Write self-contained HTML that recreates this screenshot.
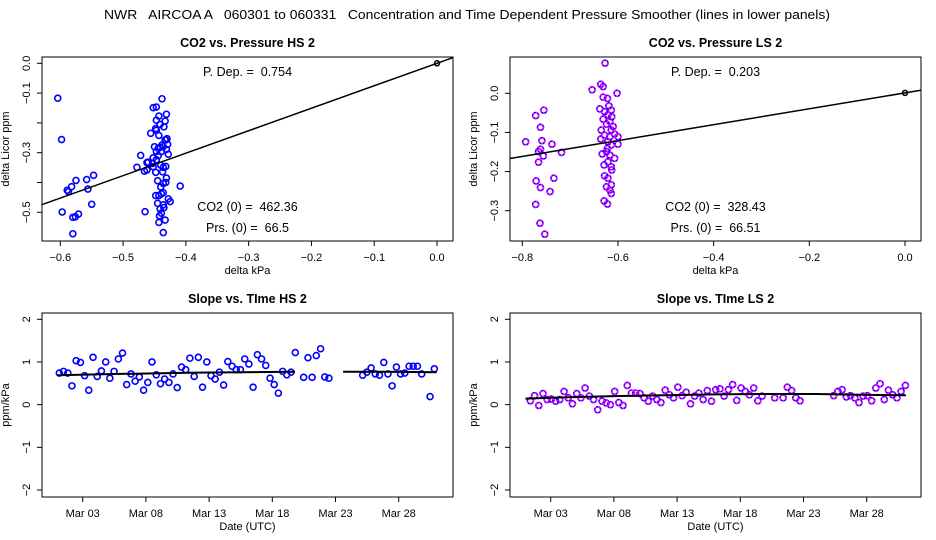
<!DOCTYPE html>
<html><head><meta charset="utf-8"><style>
body{margin:0;background:#fff}
svg{display:block;font-family:"Liberation Sans",sans-serif}
svg text{white-space:pre}
</style></head><body>
<svg id="c" width="936" height="540" viewBox="0 0 936 540" xml:space="preserve">
<rect width="936" height="540" fill="#fff"/>
<text x="104" y="19" font-size="12.5" textLength="726" lengthAdjust="spacingAndGlyphs">NWR   AIRCOA A   060301 to 060331   Concentration and Time Dependent Pressure Smoother (lines in lower panels)</text>
</svg>
<script>
// ---- HS pressure scatter data ----
const hsP = [-0.604,-0.598,-0.597,-0.580,-0.580,-0.576,-0.571,-0.589,-0.587,-0.582,-0.575,-0.558,-0.556,-0.547,-0.550,-0.478,-0.472,-0.466,-0.465,-0.409,
-0.438,-0.452,-0.447,-0.431,-0.443,-0.433,-0.447,-0.441,-0.448,-0.456,-0.443,-0.430,-0.433,-0.429,-0.450,-0.438,-0.444,-0.441,-0.436,-0.431,-0.447,-0.439,-0.428,-0.452,-0.444,-0.460,-0.447,-0.452,-0.440,-0.436,-0.432,-0.448,-0.437,-0.431,-0.445,-0.436,-0.440,-0.432,-0.439,-0.448,-0.443,-0.436,-0.428,-0.425,-0.445,-0.436,-0.441,-0.439,-0.442,-0.435,-0.433,-0.443,-0.436,-0.453,-0.462,-0.447,-0.435,-0.432,-0.462];
const hsC = [-0.117,-0.256,-0.499,-0.572,-0.517,-0.515,-0.506,-0.426,-0.431,-0.414,-0.393,-0.390,-0.422,-0.376,-0.473,-0.349,-0.309,-0.362,-0.498,-0.412,
-0.119,-0.149,-0.147,-0.171,-0.177,-0.194,-0.191,-0.205,-0.219,-0.235,-0.242,-0.253,-0.257,-0.272,-0.280,-0.274,-0.285,-0.282,-0.280,-0.289,-0.296,-0.296,-0.305,-0.317,-0.310,-0.332,-0.324,-0.347,-0.342,-0.349,-0.346,-0.366,-0.364,-0.385,-0.394,-0.403,-0.415,-0.400,-0.438,-0.444,-0.444,-0.434,-0.455,-0.464,-0.470,-0.475,-0.489,-0.503,-0.512,-0.484,-0.526,-0.534,-0.568,-0.336,-0.333,-0.225,-0.213,-0.257,-0.358];
const hsFit = [0.754, 0.0]; // slope, intercept
// ---- LS pressure scatter data ----
const lsP = [-0.793,-0.772,-0.755,-0.762,-0.759,-0.738,-0.766,-0.762,-0.756,-0.766,-0.718,-0.734,-0.771,-0.762,-0.742,-0.772,-0.763,-0.753,
-0.627,-0.654,-0.636,-0.631,-0.602,-0.631,-0.622,-0.638,-0.619,-0.614,-0.628,-0.621,-0.613,-0.631,-0.617,-0.624,-0.610,-0.635,-0.600,-0.628,-0.617,-0.607,-0.636,-0.621,-0.600,-0.614,-0.633,-0.624,-0.617,-0.607,-0.629,-0.621,-0.614,-0.613,-0.628,-0.621,-0.614,-0.617,-0.624,-0.614,-0.629,-0.622,-0.617,-0.622,-0.614];
const lsC = [-0.124,-0.057,-0.043,-0.087,-0.121,-0.130,-0.149,-0.143,-0.160,-0.176,-0.151,-0.217,-0.224,-0.241,-0.251,-0.284,-0.332,-0.360,
0.077,0.009,0.023,0.017,0.0,-0.010,-0.013,-0.040,-0.032,-0.043,-0.047,-0.055,-0.060,-0.066,-0.072,-0.079,-0.085,-0.094,-0.111,-0.107,-0.111,-0.104,-0.117,-0.124,-0.130,-0.132,-0.155,-0.149,-0.158,-0.166,-0.183,-0.175,-0.188,-0.196,-0.211,-0.217,-0.234,-0.247,-0.239,-0.256,-0.275,-0.283,-0.158,-0.141,-0.094];
const lsFit = [0.203, 0.001];
// ---- HS slope vs time ----
const hsDay = [1.15,1.48,1.82,2.15,2.48,2.82,3.15,3.48,3.82,4.15,4.48,4.82,5.15,5.48,5.82,6.15,6.48,6.82,7.15,7.48,7.82,8.15,8.48,8.82,9.15,9.48,9.82,10.15,10.48,10.82,11.15,11.48,11.82,12.15,12.48,12.82,13.15,13.48,13.82,14.15,14.48,14.82,15.15,15.48,15.82,16.15,16.48,16.82,17.15,17.48,17.82,18.15,18.48,18.82,19.15,19.48,19.82,20.48,20.82,21.15,21.48,21.82,22.15,22.48,25.15,25.48,25.82,26.15,26.48,26.82,27.15,27.48,27.82,28.15,28.48,28.82,29.15,29.48,29.82,30.48,30.82];
const hsSlope = [0.74,0.78,0.74,0.44,1.03,0.99,0.68,0.34,1.11,0.66,0.79,1.0,0.62,0.78,1.07,1.21,0.47,0.72,0.55,0.65,0.34,0.52,1.0,0.7,0.49,0.6,0.52,0.72,0.4,0.88,0.82,1.09,0.66,1.11,0.41,1.0,0.68,0.6,0.76,0.46,1.01,0.9,0.82,0.82,1.07,0.95,0.41,1.17,1.07,0.92,0.62,0.47,0.27,0.78,0.7,0.76,1.22,0.64,1.1,0.64,1.15,1.31,0.65,0.62,0.69,0.76,0.86,0.72,0.69,0.99,0.72,0.44,0.88,0.72,0.74,0.9,0.9,0.9,0.72,0.19,0.84];
const hsSmDay = [[1.0,6,12,19.8],[23.6,27,31.0]];
const hsSmVal = [[0.69,0.72,0.75,0.77],[0.77,0.77,0.76]];
// ---- LS slope vs time ----
const lsDay = [1.39,1.72,2.06,2.39,2.72,3.06,3.39,3.72,4.06,4.39,4.72,5.06,5.39,5.72,6.06,6.39,6.72,7.06,7.39,7.72,8.06,8.39,8.72,9.06,9.39,9.72,10.06,10.39,10.72,11.06,11.39,11.72,12.06,12.39,12.72,13.06,13.39,13.72,14.06,14.39,14.72,15.06,15.39,15.72,16.06,16.39,16.72,17.06,17.39,17.72,18.06,18.39,18.72,19.06,19.39,19.72,20.72,21.39,21.72,22.06,22.39,22.72,25.39,25.72,26.06,26.39,26.72,27.06,27.39,27.72,28.06,28.39,28.72,29.06,29.39,29.72,30.06,30.39,30.72,31.06];
const lsSlope = [0.09,0.21,-0.02,0.26,0.12,0.13,0.08,0.12,0.31,0.16,0.02,0.26,0.16,0.39,0.2,0.12,-0.12,0.08,0.04,0.0,0.31,0.05,-0.02,0.45,0.27,0.27,0.26,0.16,0.08,0.2,0.12,0.05,0.34,0.23,0.16,0.41,0.21,0.29,0.02,0.2,0.27,0.12,0.33,0.08,0.35,0.37,0.2,0.35,0.47,0.1,0.39,0.31,0.23,0.39,0.09,0.2,0.16,0.16,0.41,0.33,0.16,0.09,0.21,0.31,0.35,0.18,0.21,0.16,0.05,0.2,0.21,0.09,0.39,0.49,0.12,0.34,0.23,0.16,0.31,0.45];
const lsSmDay = [[1.0,4,8,12,16,20,24,28,31.1]];
const lsSmVal = [[0.14,0.17,0.2,0.22,0.24,0.25,0.25,0.23,0.22]];
const timeTicks = [3,8,13,18,23,28];
const timeTickLabels = ["Mar 03","Mar 08","Mar 13","Mar 18","Mar 23","Mar 28"];

const svg = document.getElementById('c');
const NS = 'http://www.w3.org/2000/svg';
function mk(tag, at, parent){const e=document.createElementNS(NS,tag);for(const k in at)e.setAttribute(k,at[k]);(parent||svg).appendChild(e);return e;}
function lin(d0,d1,p0,p1){return v=>p0+(v-d0)*(p1-p0)/(d1-d0);}

function panel(o){
  const g = mk('g',{});
  
  
  const L=o.x0, R=o.x1, T=o.y0, B=o.y1;
  const t = mk('text',{x:(L+R)/2,y:T-10,'font-size':12.5,'font-weight':'bold','text-anchor':'middle'},g); t.textContent=o.title;
  
  
  const box = mk('rect',{x:L,y:T,width:R-L,height:B-T,fill:'none',stroke:'#000','stroke-width':1},g);
  
  
  const xa = mk('g',{},g);
  
  
  mk('line',{x1:o.sx(o.xt[0]),x2:o.sx(o.xt[o.xt.length-1]),y1:B,y2:B,stroke:'#000'},xa);
  o.xt.forEach((v,i)=>{const X=o.sx(v);mk('line',{x1:X,x2:X,y1:B,y2:B+5,stroke:'#000'},xa);
    const tl=mk('text',{x:X,y:B+20,'font-size':11,'text-anchor':'middle'},xa);tl.textContent=o.xl[i];
    
    });
  const xt=mk('text',{x:(L+R)/2,y:B+33,'font-size':11,'text-anchor':'middle'},xa);xt.textContent=o.xtitle;
  
  
  const ya = mk('g',{},g);
  
  
  mk('line',{x1:L,x2:L,y1:o.sy(o.yt[0]),y2:o.sy(o.yt[o.yt.length-1]),stroke:'#000'},ya);
  o.yt.forEach((v,i)=>{const Y=o.sy(v);mk('line',{x1:L-5,x2:L,y1:Y,y2:Y,stroke:'#000'},ya);
    if(o.yl[i]){const tl=mk('text',{x:0,y:0,'font-size':11,'text-anchor':'middle',transform:`translate(${L-12},${Y}) rotate(-90)`},ya);tl.textContent=o.yl[i];
    
    }});
  const yt=mk('text',{x:0,y:0,'font-size':11,'text-anchor':'middle',transform:`translate(${L-33},${(T+B)/2}) rotate(-90)`},ya);yt.textContent=o.ytitle;
  
  
  return g;
}
function pt(g,X,Y,ls){
  const c=mk('circle',{cx:X,cy:Y,r:3,fill:'none',stroke:'#0000ff','stroke-width':1.6},g);
  
  
  if(ls){mk('circle',{cx:X,cy:Y,r:3,fill:'none',stroke:'#ff00ff','stroke-width':1.6,'stroke-dasharray':'2 1.5'},g);}
}
function scatterPanel(o,P,C,fit,ls,txt){
  const g=panel(o);
  const pts=mk('g',{},g);
  
  
  P.forEach((p,i)=>pt(pts,o.sx(p),o.sy(C[i]),ls));
  const xa=o.xmin, xb=o.xmax;
  const fl=mk('line',{x1:o.sx(xa),y1:o.sy(fit[0]*xa+fit[1]),x2:o.sx(xb),y2:o.sy(fit[0]*xb+fit[1]),stroke:'#000','stroke-width':1.5},g);
  
  
  const oc=mk('circle',{cx:o.sx(0),cy:o.sy(fit[1]),r:2.5,fill:'none',stroke:'#000','stroke-width':1.5},g);
  
  
  const cx=(o.x0+o.x1)/2;
  txt.forEach((s,i)=>{const t=mk('text',{x:cx,y:[76,211,232][i],'font-size':12.5,'text-anchor':'middle'},g);t.textContent=s;
    
    });
}
function timePanel(o,D,V,smD,smV,ls){
  const g=panel(o);
  const pts=mk('g',{},g);
  
  
  D.forEach((d,i)=>pt(pts,o.sx(d),o.sy(V[i]),ls));
  smD.forEach((seg,j)=>{
    const pl=mk('polyline',{points:seg.map((d,i)=>o.sx(d)+','+o.sy(smV[j][i])).join(' '),fill:'none',stroke:'#000','stroke-width':2},g);
    
    
  });
}
const TL={name:'panel-co2-pressure-hs',title:'CO2 vs. Pressure HS 2',x0:42,x1:453,y0:57,y1:241,
  sx:lin(-0.6,0,60.3,437),sy:lin(0,-0.5,63.3,212.3),xmin:-0.63,xmax:0.025,
  xt:[-0.6,-0.5,-0.4,-0.3,-0.2,-0.1,0],xl:['\u22120.6','\u22120.5','\u22120.4','\u22120.3','\u22120.2','\u22120.1','0.0'],
  yt:[0,-0.1,-0.2,-0.3,-0.4,-0.5],yl:['0.0','\u22120.1','','\u22120.3','','\u22120.5'],xtitle:'delta kPa',ytitle:'delta Licor ppm'};
scatterPanel(TL,hsP,hsC,hsFit,false,['P. Dep. =  0.754','CO2 (0) =  462.36','Prs. (0) =  66.5']);
const TR={name:'panel-co2-pressure-ls',title:'CO2 vs. Pressure LS 2',x0:510,x1:921,y0:57,y1:241,
  sx:lin(-0.8,0,522.3,905),sy:lin(0,-0.3,93.3,210.7),xmin:-0.826,xmax:0.033,
  xt:[-0.8,-0.6,-0.4,-0.2,0],xl:['\u22120.8','\u22120.6','\u22120.4','\u22120.2','0.0'],
  yt:[0,-0.1,-0.2,-0.3],yl:['0.0','\u22120.1','\u22120.2','\u22120.3'],xtitle:'delta kPa',ytitle:'delta Licor ppm'};
scatterPanel(TR,lsP,lsC,lsFit,true,['P. Dep. =  0.203','CO2 (0) =  328.43','Prs. (0) =  66.51']);
const yv=[2,1,0,-1,-2], yvl=['2','1','0','\u22121','\u22122'];
const BL={name:'panel-slope-time-hs',title:'Slope vs. TIme HS 2',x0:42,x1:453,y0:313,y1:497,
  sx:lin(3,28,82.7,398.7),sy:lin(2,-2,319.3,490),xt:timeTicks,xl:timeTickLabels,yt:yv,yl:yvl,xtitle:'Date (UTC)',ytitle:'ppm/kPa'};
timePanel(BL,hsDay,hsSlope,hsSmDay,hsSmVal,false);
const BR={name:'panel-slope-time-ls',title:'Slope vs. TIme LS 2',x0:510,x1:921,y0:313,y1:497,
  sx:lin(3,28,550.7,866.7),sy:lin(2,-2,319.3,490),xt:timeTicks,xl:timeTickLabels,yt:yv,yl:yvl,xtitle:'Date (UTC)',ytitle:'ppm/kPa'};
timePanel(BR,lsDay,lsSlope,lsSmDay,lsSmVal,true);
</script>
</body></html>
